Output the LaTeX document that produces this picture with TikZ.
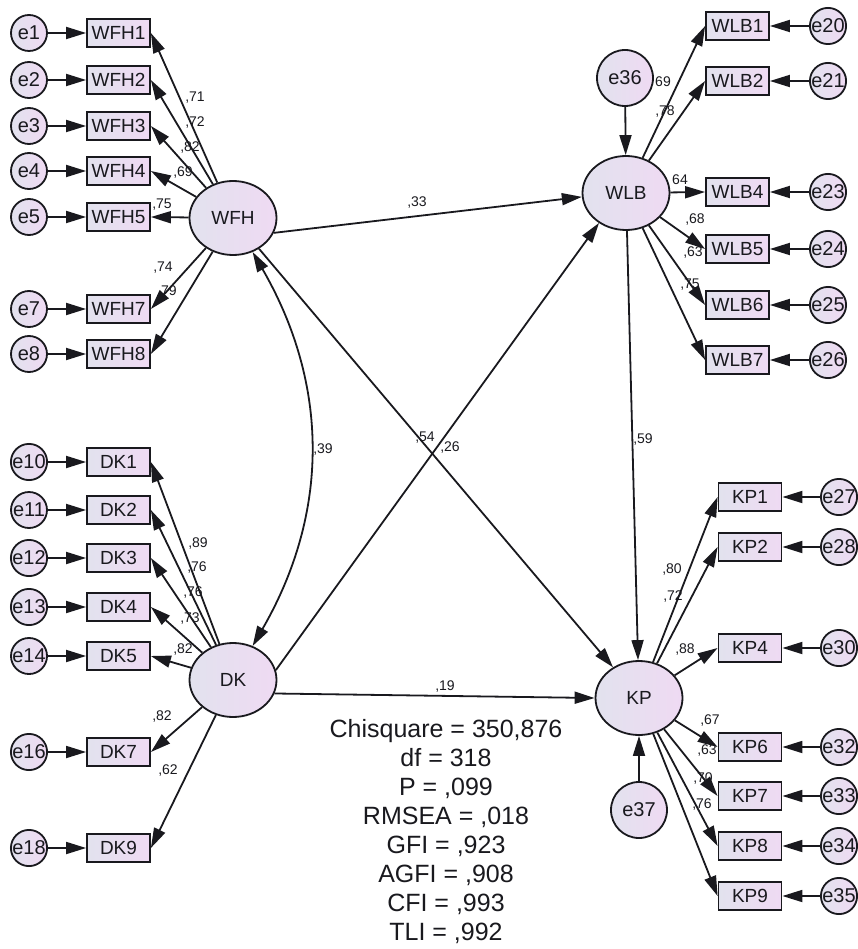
\documentclass[tikz,border=0pt]{standalone}
\usepackage{fontspec}
\setmainfont{Liberation Sans}
\usetikzlibrary{arrows.meta,shapes.geometric}
\definecolor{rl}{RGB}{226,226,238}
\definecolor{rr}{RGB}{239,218,243}
\definecolor{ink}{RGB}{25,25,30}
\tikzset{
 obs/.style={draw=ink, line width=1.8pt, rectangle, minimum width=63pt, minimum height=28pt, inner sep=0pt, left color=rl, right color=rr, font=\fontsize{19}{19}\selectfont, text=ink},
 lat/.style={draw=ink, line width=1.8pt, ellipse, minimum width=87pt, minimum height=74pt, inner sep=0pt, left color=rl, right color=rr, font=\fontsize{19}{19}\selectfont, text=ink},
 err/.style={draw=ink, line width=1.8pt, circle, minimum size=36pt, inner sep=0pt, left color=rl, right color=rr, font=\fontsize{20}{20}\selectfont, text=ink},
 bigerr/.style={err, minimum size=56pt},
 arr/.style={draw=ink, line width=1.8pt, -{Triangle[length=20pt,width=12pt]}},
 arrboth/.style={draw=ink, line width=1.8pt, {Triangle[length=20pt,width=12pt]}-{Triangle[length=20pt,width=12pt]}},
 lab/.style={font=\fontsize{14}{14}\selectfont, text=ink, inner sep=0pt},
 stat/.style={font=\fontsize{25}{29}\selectfont, align=center, text=ink, inner sep=0pt},
}
\begin{document}
\begin{tikzpicture}[x=1pt,y=-1pt]
\useasboundingbox (0,0) rectangle (857,949);
% latent variables
\node[lat] (WFH) at (233,218) {WFH};
\node[lat] (DK) at (233,680) {DK};
\node[lat] (WLB) at (626,193) {WLB};
\node[lat] (KP) at (639,698) {KP};
\node[bigerr] (e36) at (625,78) {e36};
\node[bigerr] (e37) at (639,810) {e37};
% WFH indicators
\foreach \n/\e/\y in {1/1/33, 2/2/80, 3/3/126, 4/4/171, 5/5/217, 7/7/309, 8/8/354}{
  \node[err] (e\e) at (29,\y) {e\e};
  \node[obs] (WFH\n) at (118.5,\y) {WFH\n};
  \draw[arr] (e\e) -- (WFH\n);
  \draw[arr] (WFH) -- (WFH\n.east);
}
% DK indicators
\foreach \n/\e/\y in {1/10/462, 2/11/510, 3/12/558, 4/13/607, 5/14/656, 7/16/752, 9/18/848}{
  \node[err] (e\e) at (29,\y) {e\e};
  \node[obs] (DK\n) at (118.5,\y) {DK\n};
  \draw[arr] (e\e) -- (DK\n);
  \draw[arr] (DK) -- (DK\n.east);
}
% WLB indicators
\foreach \n/\e/\y in {1/20/26, 2/21/81, 4/23/192, 5/24/249, 6/25/305, 7/26/360}{
  \node[err] (e\e) at (828,\y) {e\e};
  \node[obs] (WLB\n) at (737.5,\y) {WLB\n};
  \draw[arr] (e\e) -- (WLB\n);
  \draw[arr] (WLB) -- (WLB\n.west);
}
% KP indicators
\foreach \n/\e/\y in {1/27/497, 2/28/547, 4/30/648, 6/32/747, 7/33/796, 8/34/846, 9/35/896}{
  \node[err] (e\e) at (839,\y) {e\e};
  \node[obs] (KP\n) at (750,\y) {KP\n};
  \draw[arr] (e\e) -- (KP\n);
  \draw[arr] (KP) -- (KP\n.west);
}
% structural paths
\draw[arr] (WFH.-20) -- (WLB.185);
\draw[arr] (WFH) -- (KP);
\draw[arr] (DK.13) -- (WLB.228);
\draw[arr] (DK.-18) -- (KP.west);
\draw[arr] (WLB) -- (KP);
\draw[arr] (e36) -- (WLB);
\draw[arr] (e37) -- (KP);
\draw[arrboth] (WFH) to[bend left=30] (DK);
% loading labels WFH
\node[lab] (l71) at (195,98) {,71};
\node[lab] (l72) at (195,123) {,72};
\node[lab] (l82a) at (190,148) {,82};
\node[lab] (l69) at (183,173) {,69};
\node[lab] (l75) at (162,205) {,75};
\node[lab] (l74) at (163,268) {,74};
\node[lab] (l79) at (167,292) {,79};
% loading labels DK
\node[lab] (l89) at (198,544) {,89};
\node[lab] (l76a) at (197,568) {,76};
\node[lab] (l76b) at (193,593) {,76};
\node[lab] (l73) at (190,619) {,73};
\node[lab] (l82b) at (183,650) {,82};
\node[lab] (l82c) at (162,716) {,82};
\node[lab] (l62) at (168,770) {,62};
% loading labels WLB
\node[lab] (l69b) at (663,82) {69};
\node[lab] (l78) at (665,112) {,78};
\node[lab] (l64) at (680,180) {64};
\node[lab] (l68) at (695,220) {,68};
\node[lab] (l63a) at (693,253) {,63};
\node[lab] (l75b) at (690,285) {,75};
% loading labels KP
\node[lab] (l80) at (672,570) {,80};
\node[lab] (l72b) at (673,597) {,72};
\node[lab] (l88) at (685,650) {,88};
\node[lab] (l67) at (710,720) {,67};
\node[lab] (l63b) at (707,750) {,63};
\node[lab] (l70) at (703,778) {,70};
\node[lab] (l76c) at (702,804) {,76};
% structural labels
\node[lab] (s33) at (417,203) {,33};
\node[lab] (s54) at (425,438) {,54};
\node[lab] (s26) at (450,448) {,26};
\node[lab] (s59) at (643,440) {,59};
\node[lab] (s39) at (323,450) {,39};
\node[lab] (s19) at (445,687) {,19};
% fit statistics
\node[stat] (fit) at (446,832) {Chisquare = 350,876\\df = 318\\P = ,099\\RMSEA = ,018\\GFI = ,923\\AGFI = ,908\\CFI = ,993\\TLI = ,992};
\end{tikzpicture}
\end{document}
